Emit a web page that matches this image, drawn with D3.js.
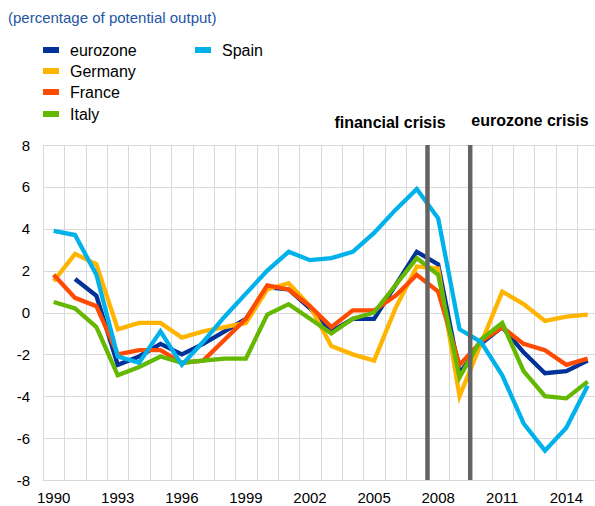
<!DOCTYPE html>
<html>
<head>
<meta charset="utf-8">
<script src="https://cdn.jsdelivr.net/npm/d3@7"></script>
<style>
  body { margin: 0; background: #fff; }
  text { font-family: Arial, "Liberation Sans", sans-serif; }
</style>
</head>
<body>
<script>
const years = d3.range(1990, 2016)

// output gap, % of potential output
const eurozone = [null, 1.6, 0.8, -2.5, -2.1, -1.5, -2.0, -1.5, -0.9, -0.3, 1.2, 1.1, 0.2, -0.9, -0.3, -0.3, 1.3, 2.9, 2.3, -2.9, -1.5, -0.7, -1.9, -2.9, -2.8, -2.3]
const germany = [1.5, 2.8, 2.3, -0.8, -0.5, -0.5, -1.2, -0.9, -0.7, -0.5, 1.1, 1.4, 0.3, -1.6, -2.0, -2.3, 0.2, 2.2, 2.1, -4.0, -1.5, 1.0, 0.4, -0.4, -0.2, -0.1]
const france = [1.8, 0.7, 0.3, -2.0, -1.8, -1.8, -2.4, -2.3, -1.3, -0.3, 1.3, 1.1, 0.3, -0.7, 0.1, 0.1, 0.8, 1.8, 1.0, -2.5, -1.4, -0.7, -1.5, -1.8, -2.5, -2.2]
const italy = [0.5, 0.2, -0.7, -3.0, -2.6, -2.1, -2.4, -2.3, -2.2, -2.2, -0.1, 0.4, -0.3, -1.0, -0.3, 0.0, 1.3, 2.6, 1.8, -3.1, -1.3, -0.5, -2.8, -4.0, -4.1, -3.3]
const spain = [3.9, 3.7, 1.8, -2.1, -2.4, -0.9, -2.5, -1.4, -0.2, 0.9, 2.0, 2.9, 2.5, 2.6, 2.9, 3.8, 4.9, 5.9, 4.5, -0.8, -1.4, -3.0, -5.3, -6.6, -5.5, -3.5]

const seriesNames = ["eurozone", "Germany", "France", "Italy", "Spain"]
const seriesColors = ["#003299", "#ffb400", "#ff4b00", "#65b800", "#00b1ea"]
const seriesValues = [eurozone, germany, france, italy, spain]

const yTicks = [-8, -6, -4, -2, 0, 2, 4, 6, 8]
const xTickYears = [1990, 1993, 1996, 1999, 2002, 2005, 2008, 2011, 2014]
const crises = [{label: "financial crisis", year: 2008}, {label: "eurozone crisis", year: 2010}]

const w = 595
const h = 506
const plotLeft = 43
const plotTop = 145
const plotBottom = 480
const step = 21.36

const svg = d3.select("body")
  .append("svg")
  .attr("width", w)
  .attr("height", h)

const xScale = d3.scaleBand()
  .domain(years)
  .range([plotLeft, plotLeft + step * years.length])
  .padding(0)

const yScale = d3.scaleLinear()
  .domain([-8, 8])
  .range([plotBottom, plotTop])

const xMid = y => xScale(y) + xScale.bandwidth() / 2

// title
svg.append("text")
  .attr("x", 8)
  .attr("y", 23)
  .attr("fill", "#2454a6")
  .style("font-size", "15px")
  .text("(percentage of potential output)")

// gridlines
const grid = svg.append("g").attr("stroke", "#d9d9d9").attr("stroke-width", 1)
grid.selectAll("line.h")
  .data(yTicks)
  .enter()
  .append("line")
  .attr("class", "h")
  .attr("x1", plotLeft)
  .attr("x2", w)
  .attr("y1", d => Math.round(yScale(d)) + 0.5)
  .attr("y2", d => Math.round(yScale(d)) + 0.5)
grid.selectAll("line.v")
  .data(years.concat([2016]))
  .enter()
  .append("line")
  .attr("class", "v")
  .attr("x1", (d, i) => Math.round(plotLeft + i * xScale.bandwidth()) + 0.5)
  .attr("x2", (d, i) => Math.round(plotLeft + i * xScale.bandwidth()) + 0.5)
  .attr("y1", plotTop)
  .attr("y2", plotBottom)

// y labels
svg.selectAll("text.ytick")
  .data(yTicks)
  .enter()
  .append("text")
  .attr("class", "ytick")
  .attr("x", 30)
  .attr("y", d => yScale(d) + 5.5)
  .attr("text-anchor", "end")
  .attr("fill", "#000")
  .style("font-size", "15px")
  .text(d => d)

// x labels
svg.selectAll("text.xtick")
  .data(xTickYears)
  .enter()
  .append("text")
  .attr("class", "xtick")
  .attr("x", d => xMid(d))
  .attr("y", 503)
  .attr("text-anchor", "middle")
  .attr("fill", "#000")
  .style("font-size", "15px")
  .text(d => d)

// lines
const line = d3.line()
  .defined(d => d.v != null)
  .x(d => xMid(d.year))
  .y(d => yScale(d.v))

seriesValues.forEach((vals, k) => {
  svg.append("path")
    .datum(years.map((year, i) => ({year: year, v: vals[i]})))
    .attr("fill", "none")
    .attr("stroke", seriesColors[k])
    .attr("stroke-width", 4.3)
    .attr("stroke-linejoin", "miter")
    .attr("d", line)
})

// crisis markers
crises.forEach(c => {
  svg.append("line")
    .attr("x1", xScale(c.year))
    .attr("x2", xScale(c.year))
    .attr("y1", plotTop)
    .attr("y2", plotBottom)
    .attr("stroke", "#646464")
    .attr("stroke-width", 4.5)
})
svg.append("text")
  .attr("x", 390)
  .attr("y", 128)
  .attr("text-anchor", "middle")
  .style("font-size", "16px")
  .style("font-weight", "bold")
  .text(crises[0].label)
svg.append("text")
  .attr("x", 530)
  .attr("y", 126)
  .attr("text-anchor", "middle")
  .style("font-size", "16px")
  .style("font-weight", "bold")
  .text(crises[1].label)

// legend
const legendPos = [[43, 50], [43, 71], [43, 92], [43, 114], [195, 50]]
seriesNames.forEach((name, k) => {
  const g = svg.append("g").attr("transform", "translate(" + legendPos[k][0] + "," + legendPos[k][1] + ")")
  g.append("rect")
    .attr("x", 0)
    .attr("y", -3)
    .attr("width", 16)
    .attr("height", 6)
    .attr("fill", seriesColors[k])
  g.append("text")
    .attr("x", 27)
    .attr("y", 5.5)
    .style("font-size", "16px")
    .attr("fill", "#000")
    .text(name)
})
</script>
</body>
</html>
